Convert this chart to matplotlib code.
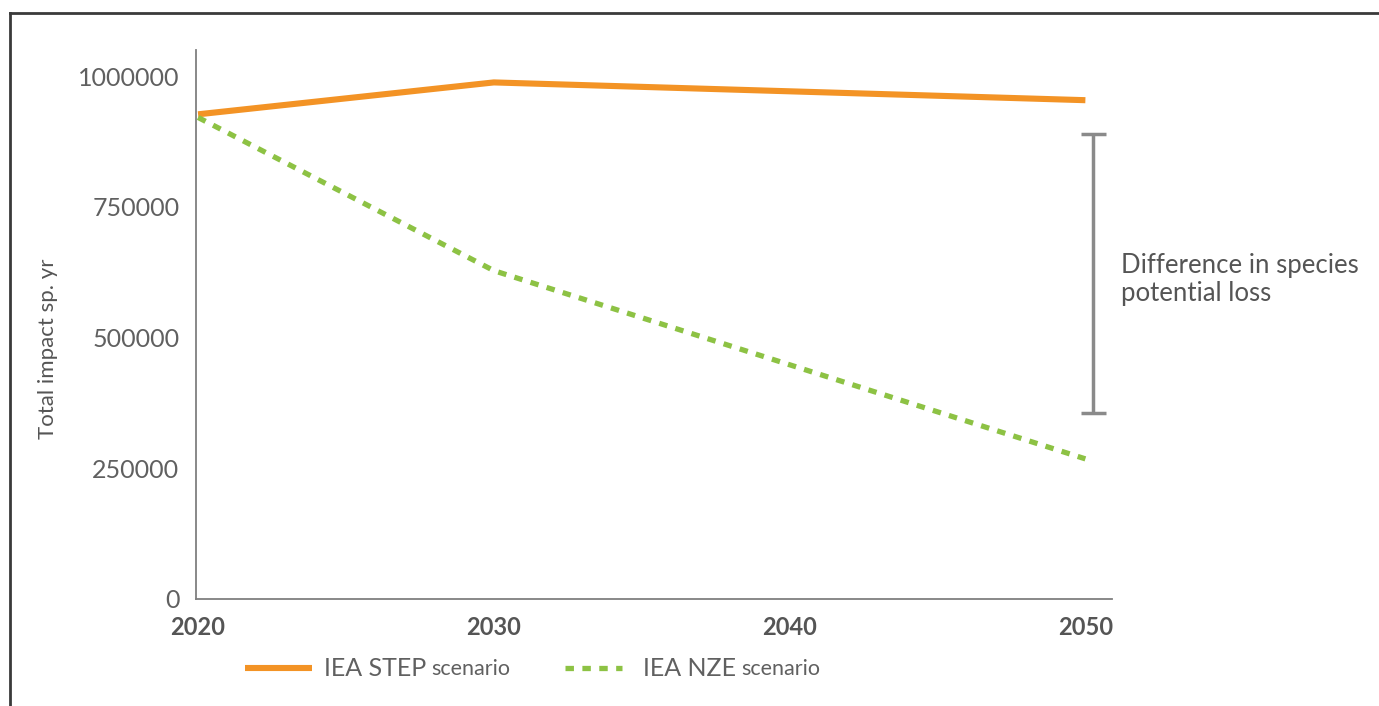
import matplotlib
matplotlib.use("Agg")
import matplotlib.pyplot as plt
from matplotlib.lines import Line2D

plt.rcParams["font.family"] = ["Lato", "DejaVu Sans"]

years = [2020, 2030, 2040, 2050]
step_impact = [927000, 988000, 971000, 954000]
nze_impact = [921000, 628000, 448000, 268000]
y_ticks = [0, 250000, 500000, 750000, 1000000]
gap_top = 889000
gap_bottom = 356000

ORANGE = "#F39325"
GREEN = "#8DC244"
TEXT = "#555555"
AXIS = "#7f7f7f"

fig = plt.figure(figsize=(13.79, 7.06), dpi=100)
ax = fig.add_axes([196 / 1379, 1 - 599 / 706, (1112 - 196) / 1379, (599 - 50) / 706])

ax.plot(years, step_impact, color=ORANGE, linewidth=4.4, solid_capstyle="butt")
ax.plot(years, nze_impact, color=GREEN, linewidth=3.8, linestyle=(0, (1.6, 1.6)),
        dash_capstyle="butt")

# bracket showing the gap between the two scenarios in 2050
ax.errorbar([2050.25], [(gap_top + gap_bottom) / 2], yerr=[(gap_top - gap_bottom) / 2],
            color="#8a8a8a", elinewidth=2.5, capsize=9, capthick=2.5)
ax.text(2051.2, 611000, "Difference in species\npotential loss", fontsize=18.5,
        color=TEXT, va="center", ha="left", linespacing=1.15)

ax.set_xlim(2019.93, 2050.9)
ax.set_ylim(0, 1050000)
ax.set_xticks(years)
ax.set_xticklabels([str(y) for y in years], fontsize=17, fontweight="bold", color=TEXT)
ax.set_yticks(y_ticks)
ax.set_yticklabels([str(v) for v in y_ticks], fontsize=18, color="#606060")
ax.tick_params(axis="both", length=0)
ax.tick_params(axis="y", pad=12)
ax.tick_params(axis="x", pad=12)
for side in ["top", "right"]:
    ax.spines[side].set_visible(False)
for side in ["left", "bottom"]:
    ax.spines[side].set_color(AXIS)
    ax.spines[side].set_linewidth(1.3)
ax.set_ylabel("Total impact sp. yr", fontsize=16, color=TEXT)
ax.yaxis.set_label_coords(-0.151, 0.455)

# outer frame (left and top edges only)
fig.add_artist(Line2D([10 / 1379, 10 / 1379], [0, 1 - 13 / 706], color="#3a3a3a", linewidth=2))
fig.add_artist(Line2D([10 / 1379, 1], [1 - 13 / 706, 1 - 13 / 706], color="#3a3a3a", linewidth=2))

# legend with a smaller "scenario" suffix
ly = 1 - 668 / 706
fig.add_artist(Line2D([245 / 1379, 312 / 1379], [ly, ly], color=ORANGE, linewidth=4.4,
                      solid_capstyle="butt"))
fig.add_artist(Line2D([565 / 1379, 622 / 1379], [ly, ly], color=GREEN, linewidth=3.8,
                      linestyle=(0, (1.6, 1.6)), dash_capstyle="butt"))

renderer = fig.canvas.get_renderer()
for x0, main in [(324, "IEA STEP"), (643, "IEA NZE")]:
    t = fig.text(x0 / 1379, ly, main, fontsize=18, color="#606060",
                 va="center", ha="left")
    bb = t.get_window_extent(renderer)
    fig.text((bb.x1 + 5) / 1379, ly - 0.002, "scenario", fontsize=15.5,
             color="#606060", va="center", ha="left")

fig.savefig("out.png", dpi=100)
